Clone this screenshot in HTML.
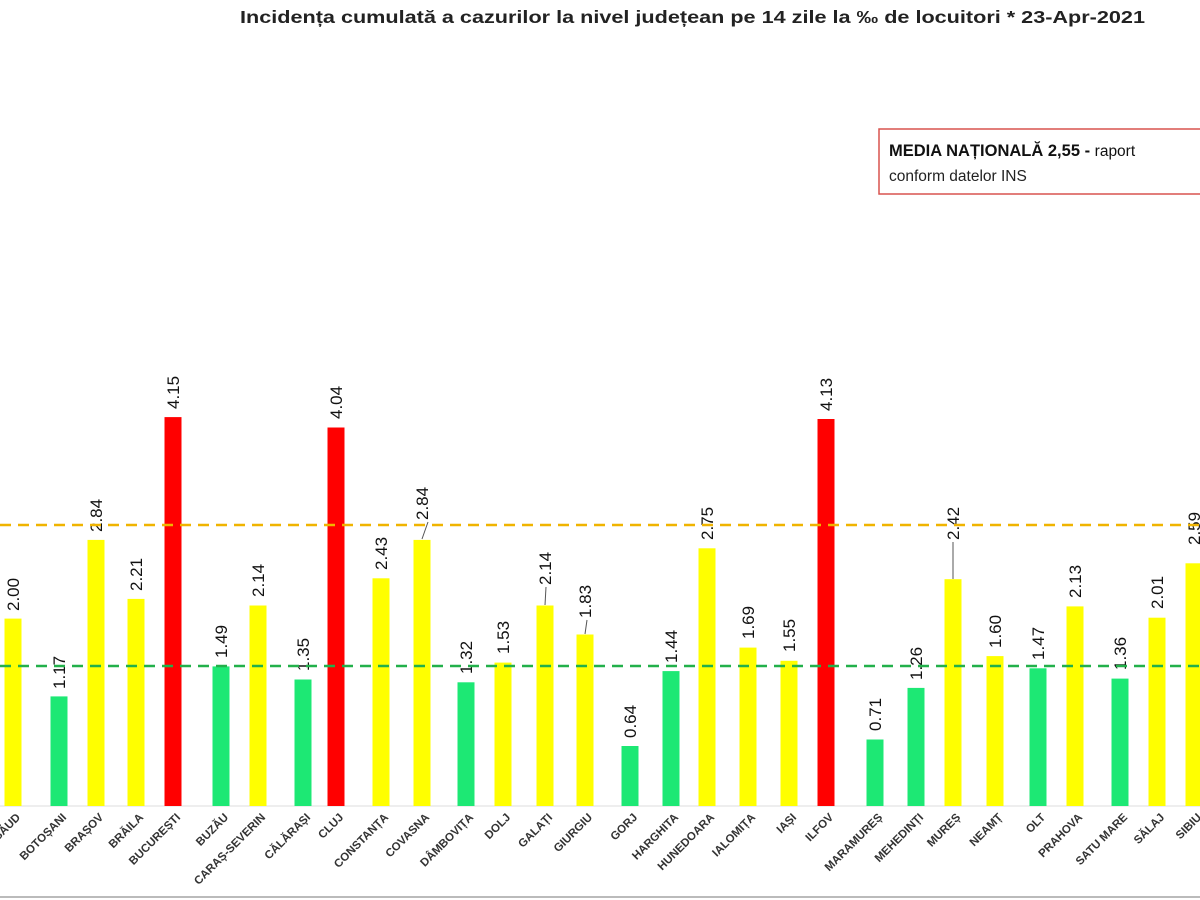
<!DOCTYPE html>
<html><head><meta charset="utf-8"><style>
html,body{margin:0;padding:0;background:#fff;}
svg{display:block;font-family:"Liberation Sans",sans-serif;}
.v{font-size:17px;fill:#111;}
.c{font-size:11.5px;font-weight:bold;fill:#333;text-anchor:end;}
</style></head><body>
<svg width="1200" height="900" viewBox="0 0 1200 900">
<rect width="1200" height="900" fill="#fff"/>
<text x="240" y="23" font-size="17.5" font-weight="bold" fill="#222" textLength="905" lengthAdjust="spacingAndGlyphs">Incidența cumulată a cazurilor la nivel județean pe 14 zile la ‰ de locuitori *   23-Apr-2021</text>
<rect x="879" y="129" width="330" height="65" fill="#fff" stroke="#d9534f" stroke-width="1.5"/>
<text x="889" y="156" font-size="16.5" font-weight="bold" fill="#111">MEDIA NAȚIONALĂ  2,55 - <tspan font-weight="normal" font-size="15.5">raport</tspan></text>
<text x="889" y="181" font-size="15.5" fill="#222">conform datelor INS</text>
<line x1="0" y1="806" x2="1200" y2="806" stroke="#ddd" stroke-width="1"/>
<line x1="0" y1="897" x2="1200" y2="897" stroke="#bbb" stroke-width="2"/>

<g>
<rect x="4.5" y="618.6" width="17" height="187.4" fill="#ffff00"/>
<rect x="50.5" y="696.4" width="17" height="109.6" fill="#1de874"/>
<rect x="87.5" y="539.9" width="17" height="266.1" fill="#ffff00"/>
<rect x="127.5" y="598.9" width="17" height="207.1" fill="#ffff00"/>
<rect x="164.5" y="417.1" width="17" height="388.9" fill="#ff0000"/>
<rect x="212.5" y="666.4" width="17" height="139.6" fill="#1de874"/>
<rect x="249.5" y="605.5" width="17" height="200.5" fill="#ffff00"/>
<rect x="294.5" y="679.5" width="17" height="126.5" fill="#1de874"/>
<rect x="327.5" y="427.5" width="17" height="378.5" fill="#ff0000"/>
<rect x="372.5" y="578.3" width="17" height="227.7" fill="#ffff00"/>
<rect x="413.5" y="539.9" width="17" height="266.1" fill="#ffff00"/>
<rect x="457.5" y="682.3" width="17" height="123.7" fill="#1de874"/>
<rect x="494.5" y="662.6" width="17" height="143.4" fill="#ffff00"/>
<rect x="536.5" y="605.5" width="17" height="200.5" fill="#ffff00"/>
<rect x="576.5" y="634.5" width="17" height="171.5" fill="#ffff00"/>
<rect x="621.5" y="746" width="17" height="60" fill="#1de874"/>
<rect x="662.5" y="671.1" width="17" height="134.9" fill="#1de874"/>
<rect x="698.5" y="548.3" width="17" height="257.7" fill="#ffff00"/>
<rect x="739.5" y="647.6" width="17" height="158.4" fill="#ffff00"/>
<rect x="780.5" y="660.8" width="17" height="145.2" fill="#ffff00"/>
<rect x="817.5" y="419" width="17" height="387" fill="#ff0000"/>
<rect x="866.5" y="739.5" width="17" height="66.5" fill="#1de874"/>
<rect x="907.5" y="687.9" width="17" height="118.1" fill="#1de874"/>
<rect x="944.5" y="579.2" width="17" height="226.8" fill="#ffff00"/>
<rect x="986.5" y="656.1" width="17" height="149.9" fill="#ffff00"/>
<rect x="1029.5" y="668.3" width="17" height="137.7" fill="#1de874"/>
<rect x="1066.5" y="606.4" width="17" height="199.6" fill="#ffff00"/>
<rect x="1111.5" y="678.6" width="17" height="127.4" fill="#1de874"/>
<rect x="1148.5" y="617.7" width="17" height="188.3" fill="#ffff00"/>
<rect x="1185.5" y="563.3" width="17" height="242.7" fill="#ffff00"/>
</g>

<g>
<text class="v" transform="translate(19,611) rotate(-90)">2.00</text>
<text class="v" transform="translate(65,689) rotate(-90)">1.17</text>
<text class="v" transform="translate(102,532) rotate(-90)">2.84</text>
<text class="v" transform="translate(142,591) rotate(-90)">2.21</text>
<text class="v" transform="translate(179,409) rotate(-90)">4.15</text>
<text class="v" transform="translate(227,658) rotate(-90)">1.49</text>
<text class="v" transform="translate(264,597) rotate(-90)">2.14</text>
<text class="v" transform="translate(309,671) rotate(-90)">1.35</text>
<text class="v" transform="translate(342,419) rotate(-90)">4.04</text>
<text class="v" transform="translate(387,570) rotate(-90)">2.43</text>
<text class="v" transform="translate(428,520) rotate(-90)">2.84</text>
<text class="v" transform="translate(472,674) rotate(-90)">1.32</text>
<text class="v" transform="translate(509,654) rotate(-90)">1.53</text>
<text class="v" transform="translate(551,585) rotate(-90)">2.14</text>
<text class="v" transform="translate(591,618) rotate(-90)">1.83</text>
<text class="v" transform="translate(636,738) rotate(-90)">0.64</text>
<text class="v" transform="translate(677,663) rotate(-90)">1.44</text>
<text class="v" transform="translate(713,540) rotate(-90)">2.75</text>
<text class="v" transform="translate(754,639) rotate(-90)">1.69</text>
<text class="v" transform="translate(795,652) rotate(-90)">1.55</text>
<text class="v" transform="translate(832,411) rotate(-90)">4.13</text>
<text class="v" transform="translate(881,731) rotate(-90)">0.71</text>
<text class="v" transform="translate(922,680) rotate(-90)">1.26</text>
<text class="v" transform="translate(959,540) rotate(-90)">2.42</text>
<text class="v" transform="translate(1001,648) rotate(-90)">1.60</text>
<text class="v" transform="translate(1044,660) rotate(-90)">1.47</text>
<text class="v" transform="translate(1081,598) rotate(-90)">2.13</text>
<text class="v" transform="translate(1126,670) rotate(-90)">1.36</text>
<text class="v" transform="translate(1163,609) rotate(-90)">2.01</text>
<text class="v" transform="translate(1200,545) rotate(-90)">2.59</text>
</g>
<g stroke="#555" stroke-width="1">
<line x1="422" y1="539" x2="428" y2="522"/>
<line x1="545" y1="605" x2="546" y2="587"/>
<line x1="585" y1="634" x2="587" y2="620"/>
<line x1="953" y1="579" x2="953" y2="542"/>
</g>

<g>
<text class="c" transform="translate(21,818) rotate(-45)">BISTRIȚA-NĂSĂUD</text>
<text class="c" transform="translate(67,818) rotate(-45)">BOTOȘANI</text>
<text class="c" transform="translate(104,818) rotate(-45)">BRAȘOV</text>
<text class="c" transform="translate(144,818) rotate(-45)">BRĂILA</text>
<text class="c" transform="translate(181,818) rotate(-45)">BUCUREȘTI</text>
<text class="c" transform="translate(229,818) rotate(-45)">BUZĂU</text>
<text class="c" transform="translate(266,818) rotate(-45)">CARAȘ-SEVERIN</text>
<text class="c" transform="translate(311,818) rotate(-45)">CĂLĂRAȘI</text>
<text class="c" transform="translate(344,818) rotate(-45)">CLUJ</text>
<text class="c" transform="translate(389,818) rotate(-45)">CONSTANȚA</text>
<text class="c" transform="translate(430,818) rotate(-45)">COVASNA</text>
<text class="c" transform="translate(474,818) rotate(-45)">DÂMBOVIȚA</text>
<text class="c" transform="translate(511,818) rotate(-45)">DOLJ</text>
<text class="c" transform="translate(553,818) rotate(-45)">GALAȚI</text>
<text class="c" transform="translate(593,818) rotate(-45)">GIURGIU</text>
<text class="c" transform="translate(638,818) rotate(-45)">GORJ</text>
<text class="c" transform="translate(679,818) rotate(-45)">HARGHITA</text>
<text class="c" transform="translate(715,818) rotate(-45)">HUNEDOARA</text>
<text class="c" transform="translate(756,818) rotate(-45)">IALOMIȚA</text>
<text class="c" transform="translate(797,818) rotate(-45)">IAȘI</text>
<text class="c" transform="translate(834,818) rotate(-45)">ILFOV</text>
<text class="c" transform="translate(883,818) rotate(-45)">MARAMUREȘ</text>
<text class="c" transform="translate(924,818) rotate(-45)">MEHEDINȚI</text>
<text class="c" transform="translate(961,818) rotate(-45)">MUREȘ</text>
<text class="c" transform="translate(1003,818) rotate(-45)">NEAMȚ</text>
<text class="c" transform="translate(1046,818) rotate(-45)">OLT</text>
<text class="c" transform="translate(1083,818) rotate(-45)">PRAHOVA</text>
<text class="c" transform="translate(1128,818) rotate(-45)">SATU MARE</text>
<text class="c" transform="translate(1165,818) rotate(-45)">SĂLAJ</text>
<text class="c" transform="translate(1202,818) rotate(-45)">SIBIU</text>
</g>

<line x1="0" y1="525" x2="1200" y2="525" stroke="#f0b400" stroke-width="2.5" stroke-dasharray="11,7"/>
<line x1="0" y1="666" x2="1200" y2="666" stroke="#22b04a" stroke-width="2.5" stroke-dasharray="11,7"/>
</svg>
</body></html>
